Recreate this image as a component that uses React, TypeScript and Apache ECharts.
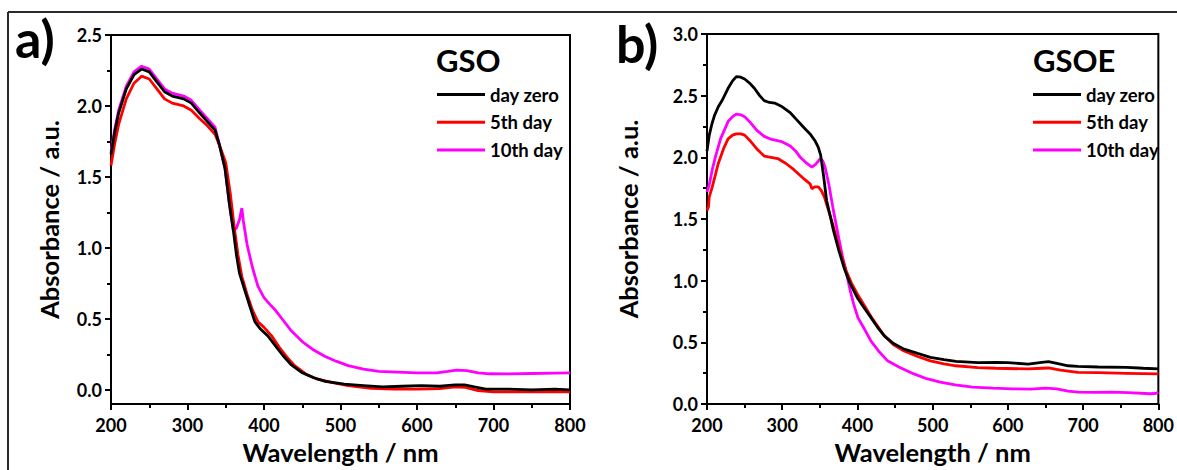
import React, { useEffect, useRef } from "react";
import * as echarts from "echarts";

const FONT = "Lato";

const seriesNames = ["day zero", "5th day", "10th day"];
const seriesColors = ["#000000", "#ff0000", "#ff00ff"];

const yMajorA = [0, 0.5, 1.0, 1.5, 2.0, 2.5];
const yMinorA = [0.25, 0.75, 1.25, 1.75, 2.25];

// Panel a) GSO
const gsoDayZero = [
  [200, 1.66], [205, 1.82], [210, 1.95], [220, 2.12], [230, 2.22], [240, 2.26], [250, 2.24], [260, 2.17],
  [270, 2.1], [280, 2.07], [295, 2.05], [305, 2.02], [316, 1.95], [326, 1.89], [336, 1.83], [342, 1.72],
  [349, 1.56], [355, 1.3], [360, 1.12], [364, 0.95], [368, 0.82], [375, 0.7], [382, 0.58], [388, 0.48],
  [395, 0.43], [405, 0.38], [415, 0.31], [425, 0.24], [435, 0.18], [450, 0.12], [465, 0.085], [480, 0.06],
  [505, 0.04], [530, 0.03], [555, 0.02], [580, 0.025], [605, 0.03], [630, 0.025], [650, 0.035], [662, 0.035],
  [675, 0.02], [690, 0.005], [720, 0.005], [750, 0.0], [780, 0.005], [800, 0.0],
];
const gso5thDay = [
  [200, 1.58], [205, 1.74], [210, 1.87], [220, 2.05], [230, 2.16], [240, 2.21], [250, 2.19], [260, 2.12],
  [270, 2.05], [280, 2.02], [295, 2.0], [305, 1.97], [316, 1.91], [326, 1.86], [336, 1.8], [342, 1.72],
  [350, 1.6], [356, 1.38], [361, 1.15], [366, 0.95], [371, 0.8], [378, 0.67], [385, 0.56], [392, 0.48],
  [400, 0.44], [410, 0.38], [420, 0.3], [430, 0.23], [440, 0.17], [455, 0.11], [470, 0.075], [490, 0.05],
  [510, 0.03], [540, 0.01], [570, 0.005], [600, 0.005], [630, 0.008], [650, 0.02], [662, 0.018], [680, -0.005],
  [700, -0.015], [740, -0.015], [770, -0.012], [800, -0.015],
];
const gso10thDay = [
  [200, 1.68], [205, 1.84], [210, 1.97], [220, 2.14], [230, 2.24], [240, 2.28], [250, 2.26], [260, 2.19],
  [270, 2.12], [280, 2.09], [295, 2.07], [305, 2.04], [316, 1.97], [326, 1.91], [336, 1.85], [342, 1.72],
  [349, 1.56], [355, 1.3], [360, 1.12], [364, 1.14], [368, 1.2], [371, 1.28], [373, 1.19], [378, 1.02],
  [385, 0.86], [392, 0.73], [400, 0.65], [408, 0.6], [415, 0.56], [425, 0.49], [435, 0.42], [450, 0.34],
  [465, 0.28], [480, 0.235], [495, 0.2], [510, 0.17], [530, 0.145], [550, 0.13], [575, 0.125], [600, 0.12],
  [626, 0.12], [640, 0.13], [652, 0.139], [665, 0.135], [680, 0.12], [695, 0.113], [720, 0.112], [750, 0.115],
  [780, 0.118], [800, 0.12],
];

// Panel b) GSOE
const gsoeDayZero = [
  [200, 2.05], [203, 2.18], [206.5, 2.27], [210, 2.34], [215, 2.41], [220, 2.46], [228, 2.56], [234, 2.62],
  [239, 2.655], [245, 2.65], [250, 2.635], [257, 2.6], [263, 2.56], [270, 2.5], [276, 2.46], [283, 2.445],
  [290, 2.44], [300, 2.41], [311, 2.36], [320, 2.3], [329, 2.24], [337, 2.19], [344, 2.13], [348, 2.08],
  [351, 2.02], [355, 1.85], [359, 1.65], [364, 1.52], [368, 1.41], [375, 1.25], [383, 1.09], [390, 0.98],
  [400, 0.86], [410, 0.77], [418, 0.7], [427, 0.62], [436, 0.55], [448, 0.49], [462, 0.445], [480, 0.41],
  [497, 0.378], [515, 0.36], [531, 0.345], [560, 0.335], [584, 0.338], [600, 0.335], [627, 0.324], [645, 0.338],
  [654, 0.343], [665, 0.33], [680, 0.31], [693, 0.305], [720, 0.3], [758, 0.297], [780, 0.29], [800, 0.284],
];
const gsoe5thDay = [
  [200, 1.57], [202, 1.6], [203, 1.68], [207, 1.76], [215, 1.95], [222, 2.07], [228, 2.15], [234, 2.18],
  [239, 2.19], [245, 2.19], [250, 2.18], [258, 2.13], [266, 2.07], [276, 2.01], [285, 2.0], [294, 1.99],
  [305, 1.95], [315.5, 1.9], [329, 1.825], [337, 1.785], [339.5, 1.745], [343, 1.76], [348, 1.76], [352, 1.73],
  [356, 1.68], [362, 1.56], [368, 1.44], [376, 1.25], [385, 1.08], [392, 0.98], [400, 0.89], [410, 0.79],
  [420, 0.69], [435, 0.56], [448, 0.48], [462, 0.43], [480, 0.385], [497, 0.35], [515, 0.325], [531, 0.31],
  [560, 0.295], [584, 0.29], [627, 0.284], [645, 0.29], [654, 0.292], [670, 0.275], [693, 0.257], [720, 0.254],
  [758, 0.249], [800, 0.244],
];
const gsoe10thDay = [
  [200, 1.72], [203, 1.78], [207, 1.9], [211, 2.0], [218, 2.15], [228, 2.29], [234, 2.33], [239, 2.35],
  [245, 2.345], [250, 2.33], [258, 2.28], [266, 2.22], [276, 2.17], [286, 2.145], [298, 2.13], [305, 2.11],
  [311, 2.09], [318, 2.05], [324, 2.0], [331, 1.96], [339.5, 1.92], [344, 1.94], [348, 1.97], [350.5, 1.99],
  [354, 1.97], [357, 1.92], [362, 1.78], [368, 1.57], [375, 1.35], [380, 1.2], [385, 1.07], [390, 0.93],
  [395, 0.81], [400.6, 0.7], [410, 0.6], [418, 0.51], [428, 0.43], [440, 0.35], [455, 0.3], [475, 0.244],
  [492, 0.205], [510, 0.177], [530, 0.155], [553, 0.137], [580, 0.128], [606, 0.123], [630, 0.12], [650, 0.128],
  [665, 0.122], [680, 0.105], [693, 0.096], [715, 0.095], [737, 0.096], [760, 0.092], [789, 0.083], [796, 0.085],
  [800, 0.096],
];

const panelA = [gsoDayZero, gso5thDay, gso10thDay];
const panelB = [gsoeDayZero, gsoe5thDay, gsoe10thDay];

const bold = { fontFamily: FONT, fontWeight: "bold" as const, color: "#000" };

function xAxisFor(gridIndex: number) {
  return {
    gridIndex,
    type: "value",
    min: 200,
    max: 800,
    interval: 100,
    name: "Wavelength / nm",
    nameLocation: "middle",
    nameGap: 35,
    nameTextStyle: { ...bold, fontSize: 25.5 },
    axisLine: { show: true, onZero: false, lineStyle: { color: "#000", width: 2 } },
    axisTick: { show: true, inside: false, length: 6, lineStyle: { color: "#000", width: 2 } },
    minorTick: { show: true, splitNumber: 2, length: 4, lineStyle: { color: "#000", width: 2 } },
    axisLabel: { ...bold, fontSize: 18, margin: 12, formatter: (v: number) => String(v) },
    splitLine: { show: false },
    minorSplitLine: { show: false },
  };
}

export default function App() {
  const ref = useRef<HTMLDivElement>(null);
  useEffect(() => {
    if (!ref.current) return;
    const chart = echarts.init(ref.current, null, { renderer: "svg" });
    const series: any[] = [];
    [panelA, panelB].forEach((panel, p) => {
      panel.forEach((data, i) => {
        series.push({
          type: "line",
          name: seriesNames[i],
          xAxisIndex: p,
          yAxisIndex: p === 0 ? 0 : 2,
          data,
          showSymbol: false,
          symbol: "none",
          smooth: false,
          lineStyle: { color: seriesColors[i], width: 2.8 },
          itemStyle: { color: seriesColors[i] },
          emphasis: { disabled: true },
          z: 3 - i + 2,
        });
      });
    });
    const legendCommon = {
      orient: "vertical",
      data: seriesNames,
      icon: "rect",
      itemWidth: 48,
      itemHeight: 3,
      itemGap: 8.7,
      padding: 0,
      textStyle: { ...bold, fontSize: 18.5, lineHeight: 18 },
      selectedMode: false,
    };
    chart.setOption({
      animation: false,
      backgroundColor: "#fff",
      grid: [
        { left: 111, top: 35, width: 459, height: 373, show: true, borderColor: "#000", borderWidth: 2, backgroundColor: "transparent" },
        { left: 707, top: 34, width: 458, height: 373, show: true, borderColor: "#000", borderWidth: 2, backgroundColor: "transparent" },
      ],
      title: [
        { text: "GSO", left: 436, top: 44, padding: 0, textStyle: { ...bold, fontSize: 31 } },
        { text: "GSOE", left: 1033, top: 44, padding: 0, textStyle: { ...bold, fontSize: 31 } },
      ],
      legend: [
        { ...legendCommon, left: 437, top: 85 },
        { ...legendCommon, left: 1033, top: 85 },
      ],
      xAxis: [xAxisFor(0), xAxisFor(1)],
      yAxis: [
        {
          gridIndex: 0,
          type: "value",
          position: "left",
          min: -0.1,
          max: 2.5,
          name: "Absorbance / a.u.",
          nameLocation: "middle",
          nameGap: 49,
          nameTextStyle: { ...bold, fontSize: 25.5 },
          axisLine: { show: true, onZero: false, lineStyle: { color: "#000", width: 2 } },
          axisTick: { show: true, inside: false, length: 6, customValues: yMajorA, lineStyle: { color: "#000", width: 2 } },
          axisLabel: { ...bold, fontSize: 18, margin: 9, customValues: yMajorA, formatter: (v: number) => v.toFixed(1) },
          splitLine: { show: false },
        },
        {
          gridIndex: 0,
          type: "value",
          position: "left",
          offset: 0,
          min: -0.1,
          max: 2.5,
          axisLine: { show: false },
          axisTick: { show: true, inside: false, length: 4, customValues: yMinorA, lineStyle: { color: "#000", width: 2 } },
          axisLabel: { show: false },
          splitLine: { show: false },
        },
        {
          gridIndex: 1,
          type: "value",
          min: 0,
          max: 3,
          interval: 0.5,
          name: "Absorbance / a.u.",
          nameLocation: "middle",
          nameGap: 66,
          nameTextStyle: { ...bold, fontSize: 25.5 },
          axisLine: { show: true, onZero: false, lineStyle: { color: "#000", width: 2 } },
          axisTick: { show: true, inside: false, length: 6, lineStyle: { color: "#000", width: 2 } },
          minorTick: { show: true, splitNumber: 2, length: 4, lineStyle: { color: "#000", width: 2 } },
          axisLabel: { ...bold, fontSize: 18, margin: 9, formatter: (v: number) => v.toFixed(1) },
          splitLine: { show: false },
          minorSplitLine: { show: false },
        },
      ],
      graphic: [
        { type: "line", shape: { x1: 8, y1: 12, x2: 1177, y2: 12 }, style: { stroke: "#2a2a2a", lineWidth: 2 } },
        { type: "line", shape: { x1: 8, y1: 12, x2: 8, y2: 470 }, style: { stroke: "#2a2a2a", lineWidth: 2 } },
        { type: "text", x: 15, y: 12, style: { text: "a)", font: `bold 52px ${FONT}`, fill: "#000" } },
        { type: "text", x: 616, y: 17, style: { text: "b)", font: `bold 52px ${FONT}`, fill: "#000" } },
      ],
      series,
    });
    return () => chart.dispose();
  }, []);
  return (
    <div
      ref={ref}
      style={{ position: "absolute", left: 0, top: 0, width: 1177, height: 470, background: "#fff" }}
    />
  );
}
